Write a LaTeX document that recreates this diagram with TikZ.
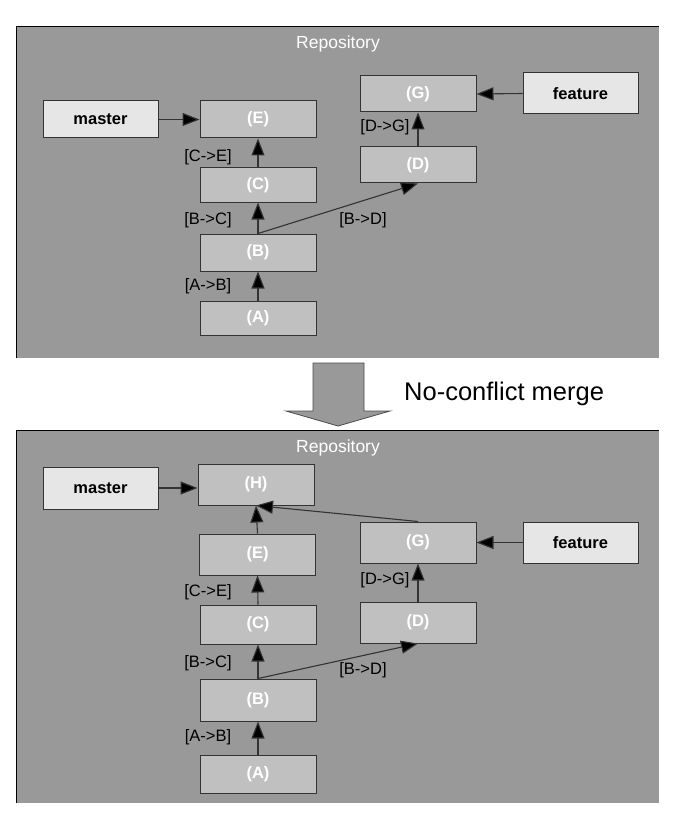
\documentclass[tikz,border=0pt]{standalone}
\usepackage{fontspec}
\setmainfont{Liberation Sans}
\usetikzlibrary{arrows.meta}
\definecolor{panelgray}{HTML}{999999}
\definecolor{commitfill}{HTML}{C0C0C0}
\definecolor{branchfill}{HTML}{E6E6E6}
\definecolor{edgegray}{HTML}{333333}
\tikzset{
  commit/.style={draw=edgegray, line width=1pt, fill=commitfill, minimum width=116pt, inner sep=0pt,
    font=\fontsize{16.5}{18}\selectfont\bfseries, text=white},
  branch/.style={draw=edgegray, line width=1pt, fill=branchfill, minimum width=115pt, inner sep=0pt,
    font=\fontsize{16.5}{18}\selectfont\bfseries, text=black},
  elabel/.style={font=\fontsize{16.5}{18}\selectfont, text=black, inner sep=0pt},
  repolabel/.style={font=\fontsize{17.5}{20}\selectfont, text=white, inner sep=0pt},
  conn/.style={draw=edgegray, line width=1.1pt, -{Triangle[length=17pt,width=13pt,fill=black]}},
  panel/.style={fill=panelgray, draw=none},
}
\begin{document}
\begin{tikzpicture}[x=1pt,y=-1pt]
\useasboundingbox (0,0) rectangle (675,813);
\fill[white] (0,0) rectangle (675,813);

% ---------- top panel ----------
\path[panel] (16,27) rectangle (659,358);
\draw[black, line width=1pt] (16,358) -- (16,27) -- (659,27);
\node[repolabel] (repo1) at (338,44) {Repository};

\node[branch, minimum height=37pt] (m1) at (100.5,119.5) {master};
\node[commit, minimum height=37pt] (E1) at (258,119.5) {(E)};
\node[commit, minimum height=34pt] (C1) at (258,185) {(C)};
\node[commit, minimum height=37pt] (B1) at (258,252.5) {(B)};
\node[commit, minimum height=34pt] (A1) at (258,318) {(A)};
\node[commit, minimum height=36pt] (G1) at (418,94) {(G)};
\node[branch, minimum height=41pt] (f1) at (580.5,93.5) {feature};
\node[commit, minimum height=36pt] (D1) at (418,165) {(D)};

\draw[conn] (m1.east) -- (E1.west);
\draw[conn] (C1.north) -- (E1.south);
\draw[conn] (B1.north) -- (C1.south);
\draw[conn] (A1.north) -- (B1.south);
\draw[conn] (B1.north) -- (D1.south);
\draw[conn] (D1.north) -- (G1.south);
\draw[conn] (f1.west) -- (G1.east);

\node[elabel] (lce1) at (208,157) {[C->E]};
\node[elabel] (lbc1) at (208,220) {[B->C]};
\node[elabel] (lab1) at (208,286) {[A->B]};
\node[elabel] (ldg1) at (385,127) {[D->G]};
\node[elabel] (lbd1) at (363,220) {[B->D]};

% ---------- merge arrow ----------
\draw[fill=panelgray, draw=black!70, line width=0.8pt]
  (313,363) -- (364,363) -- (364,411) -- (390,411) -- (338,426) -- (286,411) -- (313,411) -- cycle;
\node[font=\fontsize{25.5}{28}\selectfont, inner sep=0pt, anchor=west] (mergelabel) at (404,394) {No-conflict merge};

% ---------- bottom panel ----------
\path[panel] (16,430) rectangle (659,803);
\draw[black, line width=1pt] (16,803) -- (16,430) -- (659,430);
\node[repolabel] (repo2) at (338,448) {Repository};

\node[branch, minimum height=42pt] (m2) at (100.5,488) {master};
\node[commit, minimum height=41pt] (H2) at (256,484.5) {(H)};
\node[commit, minimum height=41pt] (E2) at (257.5,554.5) {(E)};
\node[commit, minimum height=39pt] (C2) at (258,624.5) {(C)};
\node[commit, minimum height=42pt] (B2) at (258,700) {(B)};
\node[commit, minimum height=38pt] (A2) at (258,774) {(A)};
\node[commit, minimum height=41pt] (G2) at (418,542.5) {(G)};
\node[branch, minimum height=41pt] (f2) at (580.5,542.5) {feature};
\node[commit, minimum height=41pt] (D2) at (418,622.5) {(D)};

\draw[conn] (m2.east) -- (H2.west |- m2.east);
\draw[conn] (E2.north) -- (H2.south);
\draw[conn] (G2.north) -- (H2.south);
\draw[conn] (C2.north) -- (E2.south);
\draw[conn] (B2.north) -- (C2.south);
\draw[conn] (A2.north) -- (B2.south);
\draw[conn] (B2.north) -- (D2.south);
\draw[conn] (D2.north) -- (G2.south);
\draw[conn] (f2.west) -- (G2.east);

\node[elabel] (lce2) at (208,592) {[C->E]};
\node[elabel] (lbc2) at (208,663) {[B->C]};
\node[elabel] (lab2) at (208,737) {[A->B]};
\node[elabel] (ldg2) at (385,580) {[D->G]};
\node[elabel] (lbd2) at (363,670) {[B->D]};
\end{tikzpicture}
\end{document}
